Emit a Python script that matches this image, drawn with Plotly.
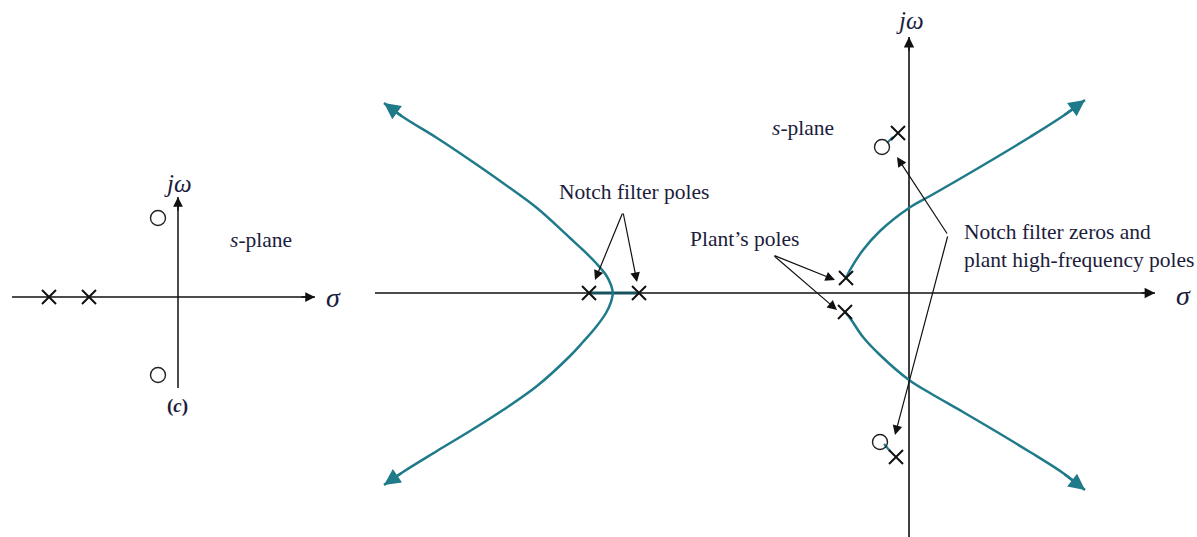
import plotly.graph_objects as go

# ---------------- panel (c): open-loop poles and zeros ----------------
C_POLES_RE = [-1.29, -0.89]
C_POLES_IM = [0.0, 0.0]
C_ZEROS_RE = [-0.20, -0.20]
C_ZEROS_IM = [0.79, -0.78]
C_SIGMA_AXIS = [-1.66, 1.37]
C_JW_AXIS = [-0.91, 1.00]

# ---------------- main panel: root locus with notch filter ----------------
NOTCH_POLES_RE = [-3.20, -2.70]
NOTCH_POLES_IM = [0.0, 0.0]
PLANT_POLES_RE = [-0.63, -0.64]
PLANT_POLES_IM = [0.15, -0.19]
HF_POLES_RE = [-0.11, -0.13]
HF_POLES_IM = [1.60, -1.64]
NOTCH_ZEROS_RE = [-0.27, -0.29]
NOTCH_ZEROS_IM = [1.46, -1.49]

# locus segment on the real axis between the notch poles
REAL_SEG_RE = [-3.20, -2.70]
REAL_SEG_IM = [0.0, 0.0]

# branches leaving the breakaway point toward the left asymptotes
LEFT_UP_RE = [-2.96, -2.98, -3.03, -3.13, -3.26, -3.39, -3.72, -4.06, -4.39, -4.72, -5.06, -5.25]
LEFT_UP_IM = [0.00, 0.08, 0.18, 0.30, 0.43, 0.55, 0.85, 1.10, 1.33, 1.55, 1.76, 1.90]
LEFT_DN_RE = [-2.96, -2.98, -3.03, -3.13, -3.26, -3.39, -3.72, -4.06, -4.39, -4.72, -5.06, -5.25]
LEFT_DN_IM = [0.00, -0.09, -0.20, -0.34, -0.49, -0.63, -0.93, -1.17, -1.38, -1.58, -1.79, -1.92]

# branches from the plant poles toward the right asymptotes
RIGHT_UP_RE = [-0.63, -0.59, -0.46, -0.29, 0.00, 0.21, 0.54, 0.88, 1.21, 1.54, 1.76]
RIGHT_UP_IM = [0.15, 0.23, 0.43, 0.62, 0.85, 0.97, 1.16, 1.36, 1.56, 1.77, 1.93]
RIGHT_DN_RE = [-0.64, -0.59, -0.46, -0.29, 0.00, 0.21, 0.54, 0.88, 1.21, 1.54, 1.76]
RIGHT_DN_IM = [-0.19, -0.25, -0.44, -0.62, -0.87, -1.00, -1.19, -1.39, -1.59, -1.80, -1.97]

# short branches between each high-frequency pole and its notch zero
HF_UP_RE = [-0.16, -0.22]
HF_UP_IM = [1.56, 1.50]
HF_DN_RE = [-0.19, -0.25]
HF_DN_IM = [-1.58, -1.51]

SIGMA_AXIS = [-5.34, 2.46]
JW_AXIS = [-2.44, 2.56]

# callout arrows: (tail, tip) pairs
NOTCH_POLE_TAIL = (-2.86, 0.81)
NOTCH_POLE_TIPS = [(-3.14, 0.13), (-2.72, 0.11)]
PLANT_POLE_TAIL = (-1.36, 0.38)
PLANT_POLE_TIPS = [(-0.74, 0.13), (-0.72, -0.17)]
ZERO_TAIL = (0.39, 0.58)
ZERO_TIPS = [(-0.12, 1.36), (-0.14, -1.42)]

TEAL = "#1f7a8a"
INK = "#111111"
TXT = "#1c1c3c"
FONT = "Liberation Serif"

fig = go.Figure()


def line(xs, ys, color, width, axes=("x", "y"), shape="spline"):
    fig.add_trace(go.Scatter(x=xs, y=ys, mode="lines", xaxis=axes[0], yaxis=axes[1],
                             line=dict(color=color, width=width, shape=shape),
                             hoverinfo="skip"))


def crosses(xs, ys, axes=("x", "y")):
    fig.add_trace(go.Scatter(x=xs, y=ys, mode="markers", xaxis=axes[0], yaxis=axes[1],
                             marker=dict(symbol="x-thin", size=14, color=INK,
                                         line=dict(width=2, color=INK)),
                             hoverinfo="skip"))


def circles(xs, ys, axes=("x", "y")):
    fig.add_trace(go.Scatter(x=xs, y=ys, mode="markers", xaxis=axes[0], yaxis=axes[1],
                             marker=dict(symbol="circle-open", size=15, color="#222222",
                                         line=dict(width=1.4, color="#222222")),
                             hoverinfo="skip"))


annotations = []


def arrow(tail, tip, color=INK, width=1.2, size=1.6, head=2, ref=("x", "y")):
    annotations.append(dict(x=tip[0], y=tip[1], ax=tail[0], ay=tail[1],
                            xref=ref[0], yref=ref[1], axref=ref[0], ayref=ref[1],
                            text="", showarrow=True, arrowhead=head, arrowsize=size,
                            arrowwidth=width, arrowcolor=color, standoff=0))


def label(x, y, text, size=21.5, ref=("x", "y"), xanchor="center", align="center"):
    annotations.append(dict(x=x, y=y, xref=ref[0], yref=ref[1], text=text,
                            showarrow=False, xanchor=xanchor, yanchor="middle", align=align,
                            font=dict(family=FONT, size=size, color=TXT)))


# ---- panel (c) ----
C = ("x2", "y2")
line(C_SIGMA_AXIS, [0, 0], INK, 1.5, C, "linear")
line([0, 0], C_JW_AXIS, INK, 1.5, C, "linear")
arrow((C_SIGMA_AXIS[1] - 0.15, 0), (C_SIGMA_AXIS[1], 0), ref=C, width=1.5, size=1.3)
arrow((0, C_JW_AXIS[1] - 0.15), (0, C_JW_AXIS[1]), ref=C, width=1.5, size=1.3)
crosses(C_POLES_RE, C_POLES_IM, C)
circles(C_ZEROS_RE, C_ZEROS_IM, C)
label(0.0, 1.14, "<i>jω</i>", 25, C)
label(0.83, 0.57, "<i>s</i>-plane", 21.5, C)
label(1.55, 0.0, "<i>σ</i>", 28, C)
label(-0.01, -1.09, "<b>(<i>c</i>)</b>", 19, C)

# ---- main panel ----
line(SIGMA_AXIS, [0, 0], INK, 1.6, shape="linear")
line([0, 0], JW_AXIS, INK, 1.6, shape="linear")
arrow((SIGMA_AXIS[1] - 0.15, 0), (SIGMA_AXIS[1], 0), width=1.6, size=1.3)
arrow((0, JW_AXIS[1] - 0.15), (0, JW_AXIS[1]), width=1.6, size=1.3)

line(REAL_SEG_RE, REAL_SEG_IM, "#17525c", 3, shape="linear")
for xs, ys in [(LEFT_UP_RE, LEFT_UP_IM), (LEFT_DN_RE, LEFT_DN_IM),
               (RIGHT_UP_RE, RIGHT_UP_IM), (RIGHT_DN_RE, RIGHT_DN_IM)]:
    line(xs, ys, TEAL, 2.5)
    arrow((xs[-2], ys[-2]), (xs[-1], ys[-1]), color=TEAL, width=2.5, size=1.3)
line(HF_UP_RE, HF_UP_IM, TEAL, 2.2, shape="linear")
line(HF_DN_RE, HF_DN_IM, TEAL, 2.2, shape="linear")

crosses(NOTCH_POLES_RE, NOTCH_POLES_IM)
crosses(PLANT_POLES_RE, PLANT_POLES_IM)
crosses(HF_POLES_RE, HF_POLES_IM)
circles(NOTCH_ZEROS_RE, NOTCH_ZEROS_IM)

for tip in NOTCH_POLE_TIPS:
    arrow(NOTCH_POLE_TAIL, tip)
for tip in PLANT_POLE_TIPS:
    arrow(PLANT_POLE_TAIL, tip)
for tip in ZERO_TIPS:
    arrow(ZERO_TAIL, tip)

label(-2.75, 1.01, "Notch filter poles")
label(-1.65, 0.54, "Plant’s poles")
label(0.53, 0.47, "Notch filter zeros and<br>plant high-frequency poles",
      xanchor="left", align="left")
label(-1.06, 1.65, "<i>s</i>-plane")
label(0.01, 2.73, "<i>jω</i>", 25)
label(2.74, -0.02, "<i>σ</i>", 28)

fig.update_layout(
    width=1197, height=537,
    margin=dict(l=0, r=0, t=0, b=0),
    paper_bgcolor="white", plot_bgcolor="rgba(0,0,0,0)",
    showlegend=False,
    annotations=annotations,
    xaxis=dict(domain=[0, 1], range=[-9.09, 2.88], visible=False, fixedrange=True),
    yaxis=dict(domain=[0, 1], range=[-2.44, 2.93], visible=False, fixedrange=True),
    xaxis2=dict(domain=[0, 1], range=[-1.78, 10.19], visible=False, anchor="y2",
                fixedrange=True),
    yaxis2=dict(domain=[0, 1], range=[-2.40, 2.97], visible=False, anchor="x2",
                fixedrange=True),
)

fig.write_html("out.html")
